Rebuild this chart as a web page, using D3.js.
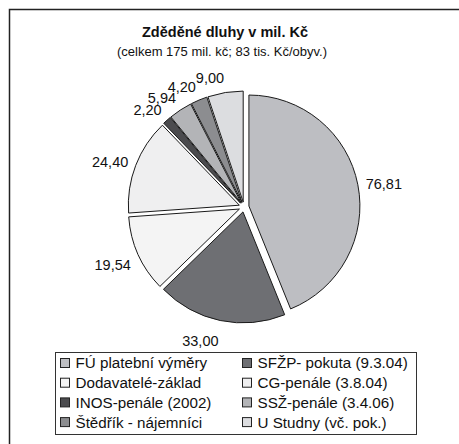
<!DOCTYPE html>
<html>
<head>
<meta charset="utf-8">
<script src="https://cdn.jsdelivr.net/npm/d3@7"></script>
<style>
  body { margin: 0; background: #fff; }
  text { font-family: "Liberation Sans", Arial, sans-serif; fill: #111; }
</style>
</head>
<body>
<div id="chart"></div>
<script>
// data
var categories = ["FÚ platební výměry", "SFŽP- pokuta (9.3.04)", "Dodavatelé-základ", "CG-penále (3.8.04)",
                  "INOS-penále (2002)", "SSŽ-penále (3.4.06)", "Štědřík - nájemníci", "U Studny (vč. pok.)"];
var values = [76.81, 33.00, 19.54, 24.40, 2.20, 5.94, 4.20, 9.00];
var labels = ["76,81", "33,00", "19,54", "24,40", "2,20", "5,94", "4,20", "9,00"];
var colors = ["#bdbec2", "#6e6f73", "#f4f4f4", "#efeff0", "#4b4b4e", "#b3b4b7", "#8c8d90", "#dcdde0"];

var svgWidth = 459;
var svgHeight = 444;

var svg = d3.select("#chart")
  .append("svg")
  .attr("width", svgWidth)
  .attr("height", svgHeight);

// frame (right and bottom fall outside the picture)
svg.append("rect")
  .attr("x", 9.5)
  .attr("y", 9.5)
  .attr("width", 470)
  .attr("height", 460)
  .attr("fill", "none")
  .attr("stroke", "#222")
  .attr("stroke-width", 1.5);

// titles
svg.append("text")
  .attr("x", 225)
  .attr("y", 37)
  .attr("text-anchor", "middle")
  .style("font-weight", "bold")
  .style("font-size", "14.5px")
  .text("Zděděné dluhy v mil. Kč");

svg.append("text")
  .attr("x", 222)
  .attr("y", 56)
  .attr("text-anchor", "middle")
  .style("font-size", "13px")
  .text("(celkem 175 mil. kč; 83 tis. Kč/obyv.)");

// pie
var cx = 244, cy = 207, radius = 111, explode = 5, labelRadius = 124;

var pie = d3.pie().sort(null).value(d => d);
var arcs = pie(values);

var arc = d3.arc().innerRadius(0).outerRadius(radius);

var pieGroup = svg.append("g")
  .attr("transform", `translate(${cx}, ${cy})`);

function mid(d) { return (d.startAngle + d.endAngle) / 2; }

pieGroup.selectAll("path")
  .data(arcs)
  .enter()
  .append("path")
  .attr("d", arc)
  .attr("transform", d => `translate(${explode * Math.sin(mid(d))}, ${-explode * Math.cos(mid(d))})`)
  .attr("fill", (d, i) => colors[i])
  .attr("stroke", "#1a1a1a")
  .attr("stroke-width", 1);

// labels outside, pushed away from the pie by their own half height
pieGroup.selectAll(".lbl")
  .data(arcs)
  .enter()
  .append("text")
  .attr("class", "lbl")
  .attr("x", d => labelRadius * Math.sin(mid(d)))
  .attr("y", d => -labelRadius * Math.cos(mid(d)) + 3 - 10 * Math.cos(mid(d)))
  .attr("dy", "0.35em")
  .attr("text-anchor", d => Math.sin(mid(d)) < 0 ? "end" : "start")
  .style("font-size", "14.5px")
  .text((d, i) => labels[i]);

// legend
var legend = svg.append("g");

legend.append("rect")
  .attr("x", 55.5)
  .attr("y", 352.5)
  .attr("width", 361)
  .attr("height", 82)
  .attr("fill", "#fff")
  .attr("stroke", "#333")
  .attr("stroke-width", 1);

var items = legend.selectAll(".item")
  .data(categories)
  .enter()
  .append("g")
  .attr("class", "item")
  .attr("transform", (d, i) => `translate(${i % 2 === 0 ? 60 : 242}, ${363 + Math.floor(i / 2) * 19.7})`);

items.append("rect")
  .attr("x", 0.5)
  .attr("y", -4.5)
  .attr("width", 9)
  .attr("height", 9)
  .attr("fill", (d, i) => colors[i])
  .attr("stroke", "#222")
  .attr("stroke-width", 1);

items.append("text")
  .attr("x", 15.5)
  .attr("y", 0)
  .attr("dy", "0.36em")
  .style("font-size", "15.2px")
  .text(d => d);
</script>
</body>
</html>
